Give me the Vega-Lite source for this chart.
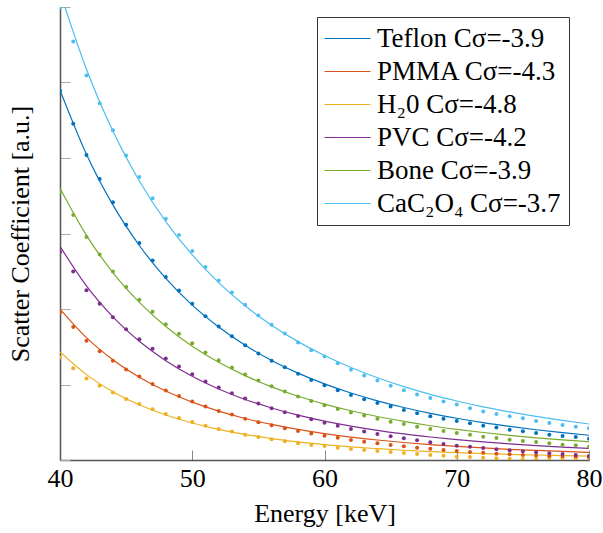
{
  "$schema": "https://vega.github.io/schema/vega-lite/v6.json",
  "autosize": "none",
  "width": 529,
  "height": 453,
  "padding": {"left": 60, "top": 7, "right": 14, "bottom": 73},
  "background": "white",
  "config": {"view": {"stroke": null}, "font": "Liberation Serif"},
  "datasets": {
    "fits": [
      {"material": "Teflon", "energy": 40, "value": 4.90}, {"material": "Teflon", "energy": 42, "value": 4.051}, {"material": "Teflon", "energy": 44, "value": 3.379}, {"material": "Teflon", "energy": 46, "value": 2.841}, {"material": "Teflon", "energy": 48, "value": 2.406}, {"material": "Teflon", "energy": 50, "value": 2.052}, {"material": "Teflon", "energy": 52, "value": 1.761}, {"material": "Teflon", "energy": 54, "value": 1.520}, {"material": "Teflon", "energy": 56, "value": 1.319}, {"material": "Teflon", "energy": 58, "value": 1.151}, {"material": "Teflon", "energy": 60, "value": 1.008}, {"material": "Teflon", "energy": 62, "value": 0.887}, {"material": "Teflon", "energy": 64, "value": 0.784}, {"material": "Teflon", "energy": 66, "value": 0.695}, {"material": "Teflon", "energy": 68, "value": 0.618}, {"material": "Teflon", "energy": 70, "value": 0.553}, {"material": "Teflon", "energy": 72, "value": 0.495}, {"material": "Teflon", "energy": 74, "value": 0.445}, {"material": "Teflon", "energy": 76, "value": 0.401}, {"material": "Teflon", "energy": 78, "value": 0.362}, {"material": "Teflon", "energy": 80, "value": 0.328},
      {"material": "PMMA", "energy": 40, "value": 2.0}, {"material": "PMMA", "energy": 42, "value": 1.621}, {"material": "PMMA", "energy": 44, "value": 1.328}, {"material": "PMMA", "energy": 46, "value": 1.097}, {"material": "PMMA", "energy": 48, "value": 0.913}, {"material": "PMMA", "energy": 50, "value": 0.766}, {"material": "PMMA", "energy": 52, "value": 0.647}, {"material": "PMMA", "energy": 54, "value": 0.550}, {"material": "PMMA", "energy": 56, "value": 0.471}, {"material": "PMMA", "energy": 58, "value": 0.405}, {"material": "PMMA", "energy": 60, "value": 0.350}, {"material": "PMMA", "energy": 62, "value": 0.304}, {"material": "PMMA", "energy": 64, "value": 0.265}, {"material": "PMMA", "energy": 66, "value": 0.232}, {"material": "PMMA", "energy": 68, "value": 0.204}, {"material": "PMMA", "energy": 70, "value": 0.180}, {"material": "PMMA", "energy": 72, "value": 0.160}, {"material": "PMMA", "energy": 74, "value": 0.142}, {"material": "PMMA", "energy": 76, "value": 0.127}, {"material": "PMMA", "energy": 78, "value": 0.113}, {"material": "PMMA", "energy": 80, "value": 0.102},
      {"material": "H2O", "energy": 40, "value": 1.43}, {"material": "H2O", "energy": 42, "value": 1.131}, {"material": "H2O", "energy": 44, "value": 0.905}, {"material": "H2O", "energy": 46, "value": 0.731}, {"material": "H2O", "energy": 48, "value": 0.596}, {"material": "H2O", "energy": 50, "value": 0.490}, {"material": "H2O", "energy": 52, "value": 0.406}, {"material": "H2O", "energy": 54, "value": 0.339}, {"material": "H2O", "energy": 56, "value": 0.284}, {"material": "H2O", "energy": 58, "value": 0.240}, {"material": "H2O", "energy": 60, "value": 0.204}, {"material": "H2O", "energy": 62, "value": 0.174}, {"material": "H2O", "energy": 64, "value": 0.150}, {"material": "H2O", "energy": 66, "value": 0.129}, {"material": "H2O", "energy": 68, "value": 0.112}, {"material": "H2O", "energy": 70, "value": 0.097}, {"material": "H2O", "energy": 72, "value": 0.085}, {"material": "H2O", "energy": 74, "value": 0.075}, {"material": "H2O", "energy": 76, "value": 0.066}, {"material": "H2O", "energy": 78, "value": 0.058}, {"material": "H2O", "energy": 80, "value": 0.051},
      {"material": "PVC", "energy": 40, "value": 2.83}, {"material": "PVC", "energy": 42, "value": 2.306}, {"material": "PVC", "energy": 44, "value": 1.896}, {"material": "PVC", "energy": 46, "value": 1.573}, {"material": "PVC", "energy": 48, "value": 1.316}, {"material": "PVC", "energy": 50, "value": 1.108}, {"material": "PVC", "energy": 52, "value": 0.940}, {"material": "PVC", "energy": 54, "value": 0.802}, {"material": "PVC", "energy": 56, "value": 0.689}, {"material": "PVC", "energy": 58, "value": 0.594}, {"material": "PVC", "energy": 60, "value": 0.515}, {"material": "PVC", "energy": 62, "value": 0.449}, {"material": "PVC", "energy": 64, "value": 0.393}, {"material": "PVC", "energy": 66, "value": 0.345}, {"material": "PVC", "energy": 68, "value": 0.305}, {"material": "PVC", "energy": 70, "value": 0.270}, {"material": "PVC", "energy": 72, "value": 0.240}, {"material": "PVC", "energy": 74, "value": 0.214}, {"material": "PVC", "energy": 76, "value": 0.191}, {"material": "PVC", "energy": 78, "value": 0.171}, {"material": "PVC", "energy": 80, "value": 0.154},
      {"material": "Bone", "energy": 40, "value": 3.60}, {"material": "Bone", "energy": 42, "value": 2.976}, {"material": "Bone", "energy": 44, "value": 2.482}, {"material": "Bone", "energy": 46, "value": 2.087}, {"material": "Bone", "energy": 48, "value": 1.768}, {"material": "Bone", "energy": 50, "value": 1.508}, {"material": "Bone", "energy": 52, "value": 1.294}, {"material": "Bone", "energy": 54, "value": 1.117}, {"material": "Bone", "energy": 56, "value": 0.969}, {"material": "Bone", "energy": 58, "value": 0.845}, {"material": "Bone", "energy": 60, "value": 0.741}, {"material": "Bone", "energy": 62, "value": 0.652}, {"material": "Bone", "energy": 64, "value": 0.576}, {"material": "Bone", "energy": 66, "value": 0.511}, {"material": "Bone", "energy": 68, "value": 0.454}, {"material": "Bone", "energy": 70, "value": 0.406}, {"material": "Bone", "energy": 72, "value": 0.364}, {"material": "Bone", "energy": 74, "value": 0.327}, {"material": "Bone", "energy": 76, "value": 0.294}, {"material": "Bone", "energy": 78, "value": 0.266}, {"material": "Bone", "energy": 80, "value": 0.241},
      {"material": "CaC2O4", "energy": 40, "value": 6.2}, {"material": "CaC2O4", "energy": 42, "value": 5.176}, {"material": "CaC2O4", "energy": 44, "value": 4.357}, {"material": "CaC2O4", "energy": 46, "value": 3.696}, {"material": "CaC2O4", "energy": 48, "value": 3.158}, {"material": "CaC2O4", "energy": 50, "value": 2.716}, {"material": "CaC2O4", "energy": 52, "value": 2.349}, {"material": "CaC2O4", "energy": 54, "value": 2.042}, {"material": "CaC2O4", "energy": 56, "value": 1.786}, {"material": "CaC2O4", "energy": 58, "value": 1.568}, {"material": "CaC2O4", "energy": 60, "value": 1.383}, {"material": "CaC2O4", "energy": 62, "value": 1.225}, {"material": "CaC2O4", "energy": 64, "value": 1.089}, {"material": "CaC2O4", "energy": 66, "value": 0.972}, {"material": "CaC2O4", "energy": 68, "value": 0.870}, {"material": "CaC2O4", "energy": 70, "value": 0.782}, {"material": "CaC2O4", "energy": 72, "value": 0.704}, {"material": "CaC2O4", "energy": 74, "value": 0.637}, {"material": "CaC2O4", "energy": 76, "value": 0.577}, {"material": "CaC2O4", "energy": 78, "value": 0.524}, {"material": "CaC2O4", "energy": 80, "value": 0.477}
    ],
    "points": [
      {"material": "Teflon", "energy": 40, "value": 4.89}, {"material": "Teflon", "energy": 41, "value": 4.452}, {"material": "Teflon", "energy": 42, "value": 4.041}, {"material": "Teflon", "energy": 43, "value": 3.723}, {"material": "Teflon", "energy": 44, "value": 3.413}, {"material": "Teflon", "energy": 45, "value": 3.117}, {"material": "Teflon", "energy": 46, "value": 2.874}, {"material": "Teflon", "energy": 47, "value": 2.643}, {"material": "Teflon", "energy": 48, "value": 2.423}, {"material": "Teflon", "energy": 49, "value": 2.245}, {"material": "Teflon", "energy": 50, "value": 2.069}, {"material": "Teflon", "energy": 51, "value": 1.905}, {"material": "Teflon", "energy": 52, "value": 1.768}, {"material": "Teflon", "energy": 53, "value": 1.640}, {"material": "Teflon", "energy": 54, "value": 1.521}, {"material": "Teflon", "energy": 55, "value": 1.410}, {"material": "Teflon", "energy": 56, "value": 1.313}, {"material": "Teflon", "energy": 57, "value": 1.229}, {"material": "Teflon", "energy": 58, "value": 1.141}, {"material": "Teflon", "energy": 59, "value": 1.061}, {"material": "Teflon", "energy": 60, "value": 0.990}, {"material": "Teflon", "energy": 61, "value": 0.924}, {"material": "Teflon", "energy": 62, "value": 0.862}, {"material": "Teflon", "energy": 63, "value": 0.805}, {"material": "Teflon", "energy": 64, "value": 0.756}, {"material": "Teflon", "energy": 65, "value": 0.707}, {"material": "Teflon", "energy": 66, "value": 0.663}, {"material": "Teflon", "energy": 67, "value": 0.619}, {"material": "Teflon", "energy": 68, "value": 0.579}, {"material": "Teflon", "energy": 69, "value": 0.548}, {"material": "Teflon", "energy": 70, "value": 0.517}, {"material": "Teflon", "energy": 71, "value": 0.486}, {"material": "Teflon", "energy": 72, "value": 0.455}, {"material": "Teflon", "energy": 73, "value": 0.429}, {"material": "Teflon", "energy": 74, "value": 0.402}, {"material": "Teflon", "energy": 75, "value": 0.381}, {"material": "Teflon", "energy": 76, "value": 0.358}, {"material": "Teflon", "energy": 77, "value": 0.336}, {"material": "Teflon", "energy": 78, "value": 0.318}, {"material": "Teflon", "energy": 79, "value": 0.305}, {"material": "Teflon", "energy": 80, "value": 0.283},
      {"material": "PMMA", "energy": 40, "value": 1.954}, {"material": "PMMA", "energy": 41, "value": 1.760}, {"material": "PMMA", "energy": 42, "value": 1.578}, {"material": "PMMA", "energy": 43, "value": 1.441}, {"material": "PMMA", "energy": 44, "value": 1.313}, {"material": "PMMA", "energy": 45, "value": 1.198}, {"material": "PMMA", "energy": 46, "value": 1.105}, {"material": "PMMA", "energy": 47, "value": 1.008}, {"material": "PMMA", "energy": 48, "value": 0.919}, {"material": "PMMA", "energy": 49, "value": 0.849}, {"material": "PMMA", "energy": 50, "value": 0.774}, {"material": "PMMA", "energy": 51, "value": 0.707}, {"material": "PMMA", "energy": 52, "value": 0.650}, {"material": "PMMA", "energy": 53, "value": 0.601}, {"material": "PMMA", "energy": 54, "value": 0.548}, {"material": "PMMA", "energy": 55, "value": 0.500}, {"material": "PMMA", "energy": 56, "value": 0.460}, {"material": "PMMA", "energy": 57, "value": 0.420}, {"material": "PMMA", "energy": 58, "value": 0.385}, {"material": "PMMA", "energy": 59, "value": 0.352}, {"material": "PMMA", "energy": 60, "value": 0.322}, {"material": "PMMA", "energy": 61, "value": 0.296}, {"material": "PMMA", "energy": 62, "value": 0.265}, {"material": "PMMA", "energy": 63, "value": 0.243}, {"material": "PMMA", "energy": 64, "value": 0.221}, {"material": "PMMA", "energy": 65, "value": 0.199}, {"material": "PMMA", "energy": 66, "value": 0.182}, {"material": "PMMA", "energy": 67, "value": 0.163}, {"material": "PMMA", "energy": 68, "value": 0.150}, {"material": "PMMA", "energy": 69, "value": 0.133}, {"material": "PMMA", "energy": 70, "value": 0.119}, {"material": "PMMA", "energy": 71, "value": 0.106}, {"material": "PMMA", "energy": 72, "value": 0.097}, {"material": "PMMA", "energy": 73, "value": 0.084}, {"material": "PMMA", "energy": 74, "value": 0.075}, {"material": "PMMA", "energy": 75, "value": 0.066}, {"material": "PMMA", "energy": 76, "value": 0.057}, {"material": "PMMA", "energy": 77, "value": 0.049}, {"material": "PMMA", "energy": 78, "value": 0.040}, {"material": "PMMA", "energy": 79, "value": 0.035}, {"material": "PMMA", "energy": 80, "value": 0.031},
      {"material": "H2O", "energy": 40, "value": 1.357}, {"material": "H2O", "energy": 41, "value": 1.216}, {"material": "H2O", "energy": 42, "value": 1.078}, {"material": "H2O", "energy": 43, "value": 0.985}, {"material": "H2O", "energy": 44, "value": 0.893}, {"material": "H2O", "energy": 45, "value": 0.809}, {"material": "H2O", "energy": 46, "value": 0.743}, {"material": "H2O", "energy": 47, "value": 0.672}, {"material": "H2O", "energy": 48, "value": 0.610}, {"material": "H2O", "energy": 49, "value": 0.557}, {"material": "H2O", "energy": 50, "value": 0.504}, {"material": "H2O", "energy": 51, "value": 0.455}, {"material": "H2O", "energy": 52, "value": 0.411}, {"material": "H2O", "energy": 53, "value": 0.376}, {"material": "H2O", "energy": 54, "value": 0.336}, {"material": "H2O", "energy": 55, "value": 0.305}, {"material": "H2O", "energy": 56, "value": 0.275}, {"material": "H2O", "energy": 57, "value": 0.248}, {"material": "H2O", "energy": 58, "value": 0.222}, {"material": "H2O", "energy": 59, "value": 0.200}, {"material": "H2O", "energy": 60, "value": 0.186}, {"material": "H2O", "energy": 61, "value": 0.163}, {"material": "H2O", "energy": 62, "value": 0.146}, {"material": "H2O", "energy": 63, "value": 0.133}, {"material": "H2O", "energy": 64, "value": 0.119}, {"material": "H2O", "energy": 65, "value": 0.106}, {"material": "H2O", "energy": 66, "value": 0.093}, {"material": "H2O", "energy": 67, "value": 0.080}, {"material": "H2O", "energy": 68, "value": 0.066}, {"material": "H2O", "energy": 69, "value": 0.057}, {"material": "H2O", "energy": 70, "value": 0.044}, {"material": "H2O", "energy": 71, "value": 0.040}, {"material": "H2O", "energy": 72, "value": 0.031}, {"material": "H2O", "energy": 73, "value": 0.022}, {"material": "H2O", "energy": 74, "value": 0.017}, {"material": "H2O", "energy": 75, "value": 0.013}, {"material": "H2O", "energy": 76, "value": 0.009}, {"material": "H2O", "energy": 77, "value": 0.005}, {"material": "H2O", "energy": 78, "value": 0.003}, {"material": "H2O", "energy": 79, "value": 0.002}, {"material": "H2O", "energy": 80, "value": 0.001},
      {"material": "PVC", "energy": 40, "value": 2.754}, {"material": "PVC", "energy": 41, "value": 2.498}, {"material": "PVC", "energy": 42, "value": 2.250}, {"material": "PVC", "energy": 43, "value": 2.069}, {"material": "PVC", "energy": 44, "value": 1.892}, {"material": "PVC", "energy": 45, "value": 1.733}, {"material": "PVC", "energy": 46, "value": 1.600}, {"material": "PVC", "energy": 47, "value": 1.472}, {"material": "PVC", "energy": 48, "value": 1.344}, {"material": "PVC", "energy": 49, "value": 1.238}, {"material": "PVC", "energy": 50, "value": 1.136}, {"material": "PVC", "energy": 51, "value": 1.039}, {"material": "PVC", "energy": 52, "value": 0.959}, {"material": "PVC", "energy": 53, "value": 0.884}, {"material": "PVC", "energy": 54, "value": 0.814}, {"material": "PVC", "energy": 55, "value": 0.747}, {"material": "PVC", "energy": 56, "value": 0.685}, {"material": "PVC", "energy": 57, "value": 0.632}, {"material": "PVC", "energy": 58, "value": 0.584}, {"material": "PVC", "energy": 59, "value": 0.540}, {"material": "PVC", "energy": 60, "value": 0.495}, {"material": "PVC", "energy": 61, "value": 0.455}, {"material": "PVC", "energy": 62, "value": 0.411}, {"material": "PVC", "energy": 63, "value": 0.376}, {"material": "PVC", "energy": 64, "value": 0.345}, {"material": "PVC", "energy": 65, "value": 0.314}, {"material": "PVC", "energy": 66, "value": 0.288}, {"material": "PVC", "energy": 67, "value": 0.261}, {"material": "PVC", "energy": 68, "value": 0.235}, {"material": "PVC", "energy": 69, "value": 0.212}, {"material": "PVC", "energy": 70, "value": 0.190}, {"material": "PVC", "energy": 71, "value": 0.176}, {"material": "PVC", "energy": 72, "value": 0.159}, {"material": "PVC", "energy": 73, "value": 0.142}, {"material": "PVC", "energy": 74, "value": 0.129}, {"material": "PVC", "energy": 75, "value": 0.115}, {"material": "PVC", "energy": 76, "value": 0.102}, {"material": "PVC", "energy": 77, "value": 0.089}, {"material": "PVC", "energy": 78, "value": 0.080}, {"material": "PVC", "energy": 79, "value": 0.066}, {"material": "PVC", "energy": 80, "value": 0.053},
      {"material": "Bone", "energy": 40, "value": 3.55}, {"material": "Bone", "energy": 41, "value": 3.245}, {"material": "Bone", "energy": 42, "value": 2.953}, {"material": "Bone", "energy": 43, "value": 2.723}, {"material": "Bone", "energy": 44, "value": 2.498}, {"material": "Bone", "energy": 45, "value": 2.290}, {"material": "Bone", "energy": 46, "value": 2.122}, {"material": "Bone", "energy": 47, "value": 1.963}, {"material": "Bone", "energy": 48, "value": 1.799}, {"material": "Bone", "energy": 49, "value": 1.671}, {"material": "Bone", "energy": 50, "value": 1.547}, {"material": "Bone", "energy": 51, "value": 1.424}, {"material": "Bone", "energy": 52, "value": 1.322}, {"material": "Bone", "energy": 53, "value": 1.225}, {"material": "Bone", "energy": 54, "value": 1.132}, {"material": "Bone", "energy": 55, "value": 1.052}, {"material": "Bone", "energy": 56, "value": 0.977}, {"material": "Bone", "energy": 57, "value": 0.906}, {"material": "Bone", "energy": 58, "value": 0.840}, {"material": "Bone", "energy": 59, "value": 0.780}, {"material": "Bone", "energy": 60, "value": 0.725}, {"material": "Bone", "energy": 61, "value": 0.676}, {"material": "Bone", "energy": 62, "value": 0.628}, {"material": "Bone", "energy": 63, "value": 0.588}, {"material": "Bone", "energy": 64, "value": 0.548}, {"material": "Bone", "energy": 65, "value": 0.508}, {"material": "Bone", "energy": 66, "value": 0.477}, {"material": "Bone", "energy": 67, "value": 0.442}, {"material": "Bone", "energy": 68, "value": 0.411}, {"material": "Bone", "energy": 69, "value": 0.385}, {"material": "Bone", "energy": 70, "value": 0.358}, {"material": "Bone", "energy": 71, "value": 0.336}, {"material": "Bone", "energy": 72, "value": 0.309}, {"material": "Bone", "energy": 73, "value": 0.292}, {"material": "Bone", "energy": 74, "value": 0.269}, {"material": "Bone", "energy": 75, "value": 0.252}, {"material": "Bone", "energy": 76, "value": 0.239}, {"material": "Bone", "energy": 77, "value": 0.221}, {"material": "Bone", "energy": 78, "value": 0.203}, {"material": "Bone", "energy": 79, "value": 0.195}, {"material": "Bone", "energy": 80, "value": 0.176},
      {"material": "CaC2O4", "energy": 40, "value": 5.99}, {"material": "CaC2O4", "energy": 41, "value": 5.544}, {"material": "CaC2O4", "energy": 42, "value": 5.093}, {"material": "CaC2O4", "energy": 43, "value": 4.726}, {"material": "CaC2O4", "energy": 44, "value": 4.367}, {"material": "CaC2O4", "energy": 45, "value": 4.032}, {"material": "CaC2O4", "energy": 46, "value": 3.749}, {"material": "CaC2O4", "energy": 47, "value": 3.466}, {"material": "CaC2O4", "energy": 48, "value": 3.196}, {"material": "CaC2O4", "energy": 49, "value": 2.980}, {"material": "CaC2O4", "energy": 50, "value": 2.768}, {"material": "CaC2O4", "energy": 51, "value": 2.556}, {"material": "CaC2O4", "energy": 52, "value": 2.378}, {"material": "CaC2O4", "energy": 53, "value": 2.219}, {"material": "CaC2O4", "energy": 54, "value": 2.056}, {"material": "CaC2O4", "energy": 55, "value": 1.914}, {"material": "CaC2O4", "energy": 56, "value": 1.790}, {"material": "CaC2O4", "energy": 57, "value": 1.675}, {"material": "CaC2O4", "energy": 58, "value": 1.556}, {"material": "CaC2O4", "energy": 59, "value": 1.455}, {"material": "CaC2O4", "energy": 60, "value": 1.370}, {"material": "CaC2O4", "energy": 61, "value": 1.282}, {"material": "CaC2O4", "energy": 62, "value": 1.194}, {"material": "CaC2O4", "energy": 63, "value": 1.118}, {"material": "CaC2O4", "energy": 64, "value": 1.052}, {"material": "CaC2O4", "energy": 65, "value": 0.985}, {"material": "CaC2O4", "energy": 66, "value": 0.924}, {"material": "CaC2O4", "energy": 67, "value": 0.866}, {"material": "CaC2O4", "energy": 68, "value": 0.822}, {"material": "CaC2O4", "energy": 69, "value": 0.774}, {"material": "CaC2O4", "energy": 70, "value": 0.734}, {"material": "CaC2O4", "energy": 71, "value": 0.685}, {"material": "CaC2O4", "energy": 72, "value": 0.641}, {"material": "CaC2O4", "energy": 73, "value": 0.610}, {"material": "CaC2O4", "energy": 74, "value": 0.579}, {"material": "CaC2O4", "energy": 75, "value": 0.553}, {"material": "CaC2O4", "energy": 76, "value": 0.517}, {"material": "CaC2O4", "energy": 77, "value": 0.491}, {"material": "CaC2O4", "energy": 78, "value": 0.464}, {"material": "CaC2O4", "energy": 79, "value": 0.442}, {"material": "CaC2O4", "energy": 80, "value": 0.420}
    ]
  },
  "encoding": {
    "x": {
      "field": "energy", "type": "quantitative",
      "scale": {"domain": [40, 80], "nice": false, "zero": false},
      "axis": {
        "values": [40, 50, 60, 70, 80], "grid": false,
        "title": "Energy [keV]", "titleFont": "Liberation Serif", "titleFontSize": 26, "titleFontWeight": "normal", "titleColor": "black", "titlePadding": 9,
        "labelFont": "Liberation Serif", "labelFontSize": 26, "labelColor": "black", "labelFlush": false, "labelPadding": 15,
        "tickSize": -10, "tickColor": "#888888", "tickWidth": 1,
        "domainColor": "#555555", "domainWidth": 1.5
      }
    },
    "y": {
      "field": "value", "type": "quantitative",
      "scale": {"domain": [0, 6], "nice": false},
      "axis": {
        "values": [0, 1, 2, 3, 4, 5, 6], "grid": false, "labels": false,
        "title": "Scatter Coefficient [a.u.]", "titleFont": "Liberation Serif", "titleFontSize": 26, "titleFontWeight": "normal", "titleColor": "black", "titlePadding": 26,
        "tickSize": -10, "tickColor": "#aaaaaa", "tickWidth": 1,
        "domainColor": "#555555", "domainWidth": 1.5
      }
    },
    "color": {
      "field": "material", "type": "nominal",
      "scale": {
        "domain": ["Teflon", "PMMA", "H2O", "PVC", "Bone", "CaC2O4"],
        "range": ["#0072BD", "#D95319", "#EDB120", "#7E2F8E", "#77AC30", "#4DBEEE"]
      }
    }
  },
  "layer": [
    {
      "data": {"name": "fits"},
      "mark": {"type": "line", "strokeWidth": 1.2, "interpolate": "monotone", "clip": true},
      "encoding": {
        "color": {
          "field": "material", "type": "nominal",
          "legend": {
            "orient": "none", "legendX": 257, "legendY": 10, "title": null,
            "symbolType": "M-4,0H4", "symbolSize": 132, "symbolStrokeWidth": 1.2, "symbolOffset": 9,
            "labelFont": "Liberation Serif", "labelFontSize": 27, "labelColor": "black", "labelOffset": 16, "labelLimit": 400,
            "padding": 8, "rowPadding": 5, "strokeColor": "#333333", "fillColor": "white",
            "labelExpr": "datum.label == 'Teflon' ? 'Teflon Cσ=-3.9' : datum.label == 'PMMA' ? 'PMMA Cσ=-4.3' : datum.label == 'H2O' ? 'H₂0 Cσ=-4.8' : datum.label == 'PVC' ? 'PVC Cσ=-4.2' : datum.label == 'Bone' ? 'Bone Cσ=-3.9' : 'CaC₂O₄ Cσ=-3.7'"
          }
        }
      }
    },
    {
      "data": {"name": "points"},
      "mark": {"type": "circle", "size": 16, "opacity": 1, "clip": true},
      "encoding": {}
    }
  ]
}
